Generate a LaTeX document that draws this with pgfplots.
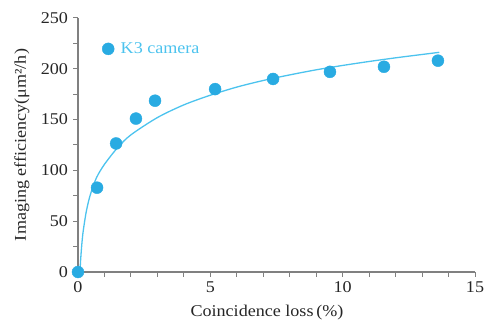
\documentclass[border=0pt]{standalone}
\usepackage{fontspec}
\setmainfont{Liberation Serif}[FakeStretch=1.1]
\usepackage{pgfplots}
\pgfplotsset{compat=1.18}
\definecolor{ptc}{HTML}{29ABE2}
\definecolor{lnc}{HTML}{4CC3EE}
\definecolor{axc}{HTML}{808080}
\begin{document}
\begin{tikzpicture}
\begin{axis}[
  scale only axis,
  width=397bp, height=254bp,
  xmin=0, xmax=15, ymin=0, ymax=250,
  axis x line=bottom, axis y line=left,
  axis line style={-, draw=axc, line width=1.1bp},
  xtick={0,5,10,15}, minor x tick num=4,
  ytick={0,50,100,150,200,250}, minor y tick num=1,
  tick align=outside,
  major tick length=4.5bp, minor tick length=4.5bp,
  tick style={draw=axc, line width=1bp},
  ticklabel style={font=\fontsize{16.5}{18}\selectfont, text=black!85},
  /pgf/number format/assume math mode=true,
  xticklabel style={yshift=-2bp},
  yticklabel style={xshift=-2bp},
  xlabel={Coincidence loss\,(\%)},
  ylabel={Imaging efficiency(μm²/h)},
  label style={font=\fontsize{16.5}{18}\selectfont, text=black!85},
  xlabel style={at={(axis description cs:0.476,0)}, anchor=north, yshift=-30bp},
  ylabel style={at={(axis description cs:0,0.5)}, anchor=south, yshift=45bp},
  clip=false,
  legend image code/.code={\draw[mark=*, mark size=6bp, mark options={draw=ptc, fill=ptc}] plot coordinates {(6bp,0bp)};},
  legend style={draw=none, fill=none, at={(axis cs:0.907,219.6)}, anchor=west,
    font=\fontsize{16.5}{18}\selectfont, text=lnc, inner sep=0pt,
    nodes={inner xsep=6.5bp}},
  legend cell align=left,
]
\addplot[only marks, mark=*, mark size=6bp, mark options={draw=ptc, fill=ptc}]
  coordinates {
  (0,0) (0.72,83) (1.44,126.5) (2.19,151) (2.91,168.6) (5.18,180)
  (7.37,190) (9.52,197) (11.56,202) (13.6,208)
  };
\addlegendentry{K3 camera}
\addplot[lnc, line width=1.3bp, smooth, forget plot]
  coordinates {
  (0.075,0) (0.1,12.1) (0.15,29) (0.2,40.9) (0.3,57.7) (0.4,69.7) (0.5,78.9)
  (0.7,92.9) (1.0,106) (1.5,122.5) (2,135) (3,152) (4,164.5) (5,174)
  (6,182) (7,188.5) (8,194) (9,199) (10,203.3) (11,207.2) (12,210.8)
  (13,214.1) (13.65,216.2)
  };
\end{axis}
\pgfresetboundingbox
\path[use as bounding box] (-78bp,-54bp) rectangle (406bp,272bp);
\end{tikzpicture}
\end{document}
